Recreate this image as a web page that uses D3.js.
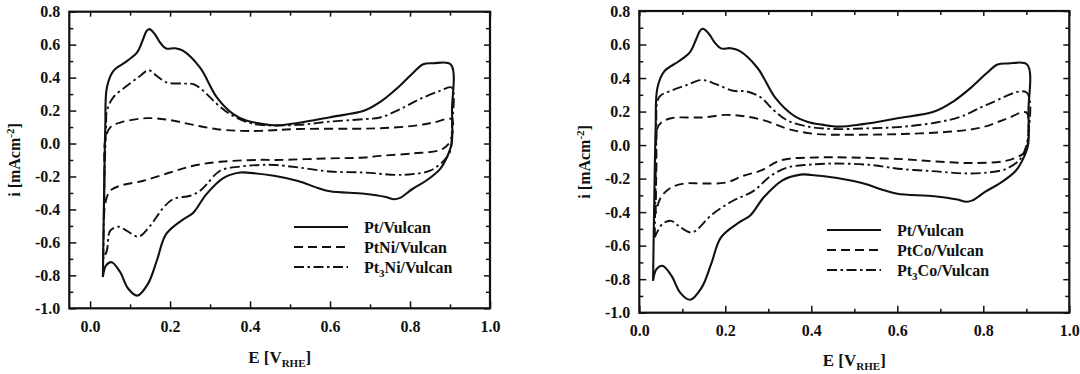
<!DOCTYPE html>
<html>
<head>
<meta charset="utf-8">
<script src="https://cdn.jsdelivr.net/npm/d3@7"></script>
<style>
  body { margin: 0; background: #fff; }
  text { font-family: "Liberation Serif", "Times New Roman", serif; font-weight: bold; fill: #111; }
  .tick text { font-size: 16px; }
</style>
</head>
<body>
<div id="chart"></div>
<script>
// ticks
const xMajor = [0.0, 0.2, 0.4, 0.6, 0.8, 1.0];
const xMinor = [0.1, 0.3, 0.5, 0.7, 0.9];
const yMajor = [-1.0, -0.8, -0.6, -0.4, -0.2, 0.0, 0.2, 0.4, 0.6, 0.8];
const yMinor = [-0.9, -0.7, -0.5, -0.3, -0.1, 0.1, 0.3, 0.5, 0.7];

// Pt/Vulcan (same sample in both panels) : [E, i]
const ptUp = [[0.032, -0.81], [0.035, -0.30], [0.038, 0.10], [0.042, 0.34], [0.058, 0.44], [0.092, 0.50],
  [0.118, 0.555], [0.132, 0.630], [0.141, 0.682], [0.147, 0.694], [0.153, 0.688], [0.163, 0.660],
  [0.176, 0.610], [0.190, 0.577], [0.2125, 0.578], [0.233, 0.562], [0.275, 0.46], [0.317, 0.28],
  [0.358, 0.178], [0.392, 0.138], [0.425, 0.122], [0.464, 0.11], [0.52, 0.125], [0.60, 0.16],
  [0.686, 0.20], [0.73, 0.26], [0.77, 0.34], [0.808, 0.43], [0.833, 0.481], [0.858, 0.487], [0.902, 0.48]];
const ptDown = [[0.905, 0.20], [0.904, 0.0], [0.892, -0.085], [0.875, -0.155], [0.84, -0.226],
  [0.806, -0.276], [0.775, -0.33], [0.76, -0.338], [0.74, -0.325], [0.686, -0.305], [0.60, -0.29],
  [0.57, -0.27], [0.52, -0.228], [0.46, -0.196], [0.40, -0.178], [0.375, -0.176], [0.333, -0.21],
  [0.29, -0.31], [0.258, -0.42], [0.233, -0.46], [0.19, -0.55], [0.167, -0.71], [0.145, -0.85],
  [0.118, -0.923], [0.095, -0.88], [0.075, -0.78], [0.054, -0.72], [0.04, -0.74], [0.032, -0.81]];

// PtNi/Vulcan
const ptNiUp = [[0.035, -0.45], [0.036, -0.20], [0.0375, 0.016], [0.05, 0.097], [0.075, 0.127],
  [0.142, 0.154], [0.20, 0.142], [0.258, 0.113], [0.317, 0.087], [0.375, 0.077], [0.425, 0.077],
  [0.52, 0.088], [0.686, 0.09], [0.725, 0.093], [0.808, 0.107], [0.858, 0.127], [0.904, 0.148]];
const ptNiDown = [[0.905, 0.05], [0.896, -0.004], [0.875, -0.04], [0.808, -0.06], [0.725, -0.075],
  [0.686, -0.085], [0.60, -0.09], [0.462, -0.10], [0.425, -0.099], [0.325, -0.111], [0.258, -0.135],
  [0.20, -0.176], [0.133, -0.226], [0.075, -0.256], [0.05, -0.287], [0.0375, -0.367], [0.035, -0.45]];

// Pt3Ni/Vulcan
const pt3NiUp = [[0.033, -0.70], [0.036, -0.20], [0.040, 0.10], [0.042, 0.198], [0.058, 0.28],
  [0.092, 0.35], [0.125, 0.41], [0.146, 0.445], [0.167, 0.41], [0.192, 0.37], [0.233, 0.364],
  [0.258, 0.36], [0.283, 0.32], [0.317, 0.24], [0.35, 0.178], [0.392, 0.13], [0.425, 0.113],
  [0.52, 0.113], [0.60, 0.133], [0.686, 0.148], [0.725, 0.158], [0.775, 0.208], [0.825, 0.27],
  [0.875, 0.32], [0.904, 0.34]];
const pt3NiDown = [[0.905, 0.10], [0.90, -0.05], [0.884, -0.105], [0.85, -0.165], [0.806, -0.186],
  [0.763, -0.19], [0.686, -0.176], [0.60, -0.17], [0.52, -0.145], [0.462, -0.13], [0.425, -0.13],
  [0.375, -0.14], [0.325, -0.165], [0.292, -0.246], [0.275, -0.287], [0.25, -0.317], [0.208, -0.337],
  [0.183, -0.39], [0.15, -0.50], [0.121, -0.565], [0.092, -0.53], [0.071, -0.505], [0.05, -0.53],
  [0.042, -0.65], [0.033, -0.70]];

// PtCo/Vulcan
const ptCoUp = [[0.038, -0.41], [0.040, -0.10], [0.042, 0.10], [0.054, 0.14], [0.074, 0.16],
  [0.09, 0.165], [0.146, 0.165], [0.202, 0.18], [0.25, 0.17], [0.298, 0.141], [0.346, 0.096],
  [0.411, 0.066], [0.491, 0.062], [0.611, 0.066], [0.731, 0.082], [0.796, 0.105], [0.852, 0.155],
  [0.90, 0.195]];
const ptCoDown = [[0.905, 0.10], [0.90, -0.03], [0.892, -0.054], [0.852, -0.094], [0.771, -0.107],
  [0.691, -0.098], [0.611, -0.084], [0.491, -0.074], [0.411, -0.074], [0.33, -0.09], [0.282, -0.153],
  [0.242, -0.183], [0.202, -0.223], [0.146, -0.229], [0.106, -0.229], [0.074, -0.253], [0.05, -0.312],
  [0.038, -0.41]];

// Pt3Co/Vulcan
const pt3CoUp = [[0.036, -0.55], [0.038, -0.20], [0.040, 0.05], [0.046, 0.285], [0.074, 0.324],
  [0.106, 0.354], [0.146, 0.388], [0.178, 0.364], [0.218, 0.324], [0.25, 0.32], [0.282, 0.285],
  [0.314, 0.205], [0.346, 0.145], [0.395, 0.109], [0.451, 0.096], [0.531, 0.10], [0.611, 0.109],
  [0.691, 0.135], [0.747, 0.169], [0.812, 0.245], [0.90, 0.315]];
const pt3CoDown = [[0.904, 0.05], [0.896, -0.034], [0.884, -0.09], [0.852, -0.143], [0.812, -0.163],
  [0.755, -0.169], [0.691, -0.157], [0.611, -0.143], [0.531, -0.117], [0.451, -0.11], [0.395, -0.117],
  [0.346, -0.133], [0.306, -0.183], [0.266, -0.273], [0.218, -0.332], [0.17, -0.412], [0.122, -0.521],
  [0.09, -0.48], [0.074, -0.452], [0.054, -0.47], [0.036, -0.55]];

const leftNames = ['Pt/Vulcan', 'PtNi/Vulcan', 'Pt_3Ni/Vulcan'];
const rightNames = ['Pt/Vulcan', 'PtCo/Vulcan', 'Pt_3Co/Vulcan'];

!(function () {
  'use strict';

  let svg, dashes, addRich, drawPanel;

  svg = d3.select('#chart').append('svg')
    .attr('width', 1080)
    .attr('height', 374);

  // solid, dashed, dash-dot
  dashes = [null, '9,5', '10,3.5,2.5,3.5'];

  // text with _x subscript / ^{x} superscript parts
  addRich = function (sel, str, small) {
    let parts = str.split(/([_^]\{[^}]*\}|[_^].)/).filter(function (p) { return p.length; });
    let shift = 0;
    parts.forEach(function (p) {
      let t = sel.append('tspan');
      let target = 0, s = p;
      if (p[0] === '_' || p[0] === '^') {
        s = p.slice(1).replace(/[{}]/g, '');
        target = p[0] === '_' ? 4 : -6;
        t.style('font-size', small);
      }
      t.attr('dy', target - shift).text(s);
      shift = target;
    });
  };

  drawPanel = function (cfg) {
    let x = d3.scaleLinear().domain(cfg.xDomain).range([cfg.left, cfg.right]);
    let y = d3.scaleLinear().domain([-1.0, 0.8]).range([cfg.bottom, cfg.top]);
    let g = svg.append('g');
    let fmt = function (d) { return d.toFixed(1); };
    let axes = [];

    let xMaj = xMajor.filter(function (v) { return v >= cfg.xDomain[0] && v <= cfg.xDomain[1]; });

    // bottom + top
    axes.push(g.append('g').attr('transform', 'translate(0,' + cfg.bottom + ')')
      .call(d3.axisBottom(x).tickValues(xMaj).tickSize(-7).tickPadding(12).tickFormat(fmt)));
    axes.push(g.append('g').attr('transform', 'translate(0,' + cfg.bottom + ')')
      .call(d3.axisBottom(x).tickValues(xMinor).tickSize(-4).tickFormat('')));
    axes.push(g.append('g').attr('transform', 'translate(0,' + cfg.top + ')')
      .call(d3.axisTop(x).tickValues(xMaj).tickSize(-5).tickFormat('')));
    axes.push(g.append('g').attr('transform', 'translate(0,' + cfg.top + ')')
      .call(d3.axisTop(x).tickValues(xMinor).tickSize(-4).tickFormat('')));
    // left + right
    axes.push(g.append('g').attr('transform', 'translate(' + cfg.left + ',0)')
      .call(d3.axisLeft(y).tickValues(yMajor).tickSize(-7).tickPadding(9).tickFormat(fmt)));
    axes.push(g.append('g').attr('transform', 'translate(' + cfg.left + ',0)')
      .call(d3.axisLeft(y).tickValues(yMinor).tickSize(-4).tickFormat('')));
    axes.push(g.append('g').attr('transform', 'translate(' + cfg.right + ',0)')
      .call(d3.axisRight(y).tickValues(yMajor).tickSize(-6).tickFormat('')));
    axes.push(g.append('g').attr('transform', 'translate(' + cfg.right + ',0)')
      .call(d3.axisRight(y).tickValues(yMinor).tickSize(-4).tickFormat('')));

    axes.forEach(function (a) {
      a.attr('font-family', null).attr('font-size', null);
      a.select('.domain').remove();
      a.selectAll('.tick line').attr('stroke', '#111').attr('stroke-width', 1.5);
      a.selectAll('.tick text').attr('fill', '#111');
    });

    g.append('rect')
      .attr('x', cfg.left).attr('y', cfg.top)
      .attr('width', cfg.right - cfg.left).attr('height', cfg.bottom - cfg.top)
      .attr('fill', 'none').attr('stroke', '#111').attr('stroke-width', 2.2);

    // curves
    let line = d3.line()
      .x(function (d) { return x(d[0]); })
      .y(function (d) { return y(d[1]); })
      .curve(d3.curveCatmullRom.alpha(0.5));

    cfg.series.forEach(function (s, k) {
      g.append('path')
        .datum(s[0].concat(s[1]))
        .attr('d', line)
        .attr('fill', 'none')
        .attr('stroke', '#111')
        .attr('stroke-width', k === 0 ? 2.1 : 1.9)
        .attr('stroke-linejoin', 'round')
        .attr('stroke-dasharray', dashes[k]);
    });

    // legend
    cfg.names.forEach(function (name, k) {
      let ly = cfg.legY + k * 20;
      g.append('line')
        .attr('x1', cfg.legX).attr('x2', cfg.legX + 54)
        .attr('y1', ly).attr('y2', ly)
        .attr('stroke', '#111').attr('stroke-width', 2)
        .attr('stroke-dasharray', dashes[k]);
      let t = g.append('text')
        .attr('x', cfg.legX + 70).attr('y', ly + 5.5)
        .style('font-size', '16px');
      addRich(t, name, '11px');
    });

    // axis titles
    let yt = g.append('text')
      .attr('transform', 'translate(' + cfg.yTitleX + ',' + ((cfg.top + cfg.bottom) / 2) + ') rotate(-90)')
      .attr('text-anchor', 'middle')
      .style('font-size', '16px');
    addRich(yt, 'i [mAcm^{-2}]', '11px');

    let xt = g.append('text')
      .attr('x', (cfg.left + cfg.right) / 2).attr('y', cfg.xTitleY)
      .attr('text-anchor', 'middle')
      .style('font-size', '17px');
    addRich(xt, 'E [V_{RHE}]', '11px');
  };

  // control
  drawPanel({
    xDomain: [-0.052, 1.0], left: 69.3, right: 490, top: 11.7, bottom: 308.3,
    series: [[ptUp, ptDown], [ptNiUp, ptNiDown], [pt3NiUp, pt3NiDown]],
    names: leftNames, legX: 294, legY: 227, yTitleX: 20, xTitleY: 363
  });
  drawPanel({
    xDomain: [0.0, 1.0], left: 639.3, right: 1069.3, top: 11, bottom: 312.7,
    series: [[ptUp, ptDown], [ptCoUp, ptCoDown], [pt3CoUp, pt3CoDown]],
    names: rightNames, legX: 827, legY: 230, yTitleX: 590, xTitleY: 366
  });
}());
</script>
</body>
</html>
